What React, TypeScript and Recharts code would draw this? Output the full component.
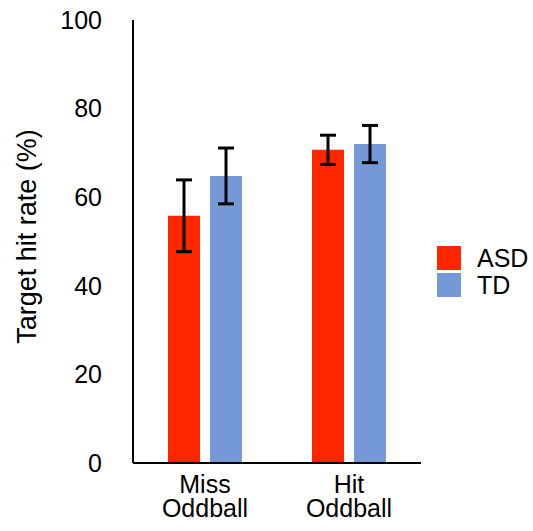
import React from "react"
import { BarChart, Bar, XAxis, YAxis, ErrorBar, Legend } from "recharts"

const FONT = "'Liberation Sans', Arial, sans-serif"

// group labels and rates (%) with their error ranges
const groups = ["Miss Oddball", "Hit Oddball"]
const asdRate = [55.8, 70.7]
const asdErr = [8.1, 3.3]
const tdRate = [64.8, 72.0]
const tdErr = [6.3, 4.2]
const yTicks = [0, 20, 40, 60, 80, 100]

const COLORS = {
  asd: "#FF2600",
  td: "#7598D6",
}

const data = groups.map((g, i) => ({
  group: g,
  asd: asdRate[i],
  asdErr: asdErr[i],
  td: tdRate[i],
  tdErr: tdErr[i],
}))

// two-line category label under each group
function GroupTick({ x, y, payload }: any) {
  const words = String(payload.value).split(" ")
  return (
    <text x={x} y={y} textAnchor="middle" fontSize={25} fontFamily={FONT} fill="#000">
      {words.map((w, i) => (
        <tspan key={i} x={x} dy={i === 0 ? 28 : 24}>
          {w}
        </tspan>
      ))}
    </text>
  )
}

function LegendBox({ payload }: any) {
  return (
    <div style={{ fontFamily: FONT, fontSize: 25, color: "#000" }}>
      {(payload || []).map((p: any) => (
        <div key={p.value} style={{ display: "flex", alignItems: "center", height: 27 }}>
          <div style={{ width: 24, height: 24, background: p.color, marginRight: 16, marginBottom: 3 }} />
          <span style={{ lineHeight: "24px", marginBottom: 4 }}>{p.value}</span>
        </div>
      ))}
    </div>
  )
}

export default function App() {
  return (
    <div style={{ position: "absolute", left: 0, top: 0, background: "#fff" }}>
      <BarChart
        width={533}
        height={531}
        data={data}
        margin={{ top: 20, right: 112, bottom: 0, left: 0 }}
        barSize={32}
        barGap={10}
      >
        <XAxis
          dataKey="group"
          height={68}
          tickLine={false}
          tickSize={0}
          axisLine={{ stroke: "#000", strokeWidth: 2 }}
          tick={<GroupTick />}
          interval={0}
        />
        <YAxis
          width={133}
          domain={[0, 100]}
          ticks={yTicks}
          tickLine={false}
          tickSize={0}
          tickMargin={31}
          axisLine={{ stroke: "#000", strokeWidth: 2 }}
          tick={{ fontSize: 25, fontFamily: FONT, fill: "#000" }}
          label={{
            value: "Target hit rate (%)",
            angle: -90,
            position: "center",
            dx: -40,
            dy: -5,
            style: { fontSize: 27, fontFamily: FONT, fill: "#000" },
          }}
        />
        <Legend
          layout="vertical"
          align="center"
          verticalAlign="middle"
          wrapperStyle={{ left: 437, top: 246, width: 96 }}
          content={<LegendBox />}
        />
        <Bar dataKey="asd" name="ASD" fill={COLORS.asd} isAnimationActive={false}>
          <ErrorBar dataKey="asdErr" width={8} strokeWidth={3} stroke="#000" direction="y" isAnimationActive={false} />
        </Bar>
        <Bar dataKey="td" name="TD" fill={COLORS.td} isAnimationActive={false}>
          <ErrorBar dataKey="tdErr" width={8} strokeWidth={3} stroke="#000" direction="y" isAnimationActive={false} />
        </Bar>
      </BarChart>
    </div>
  )
}
